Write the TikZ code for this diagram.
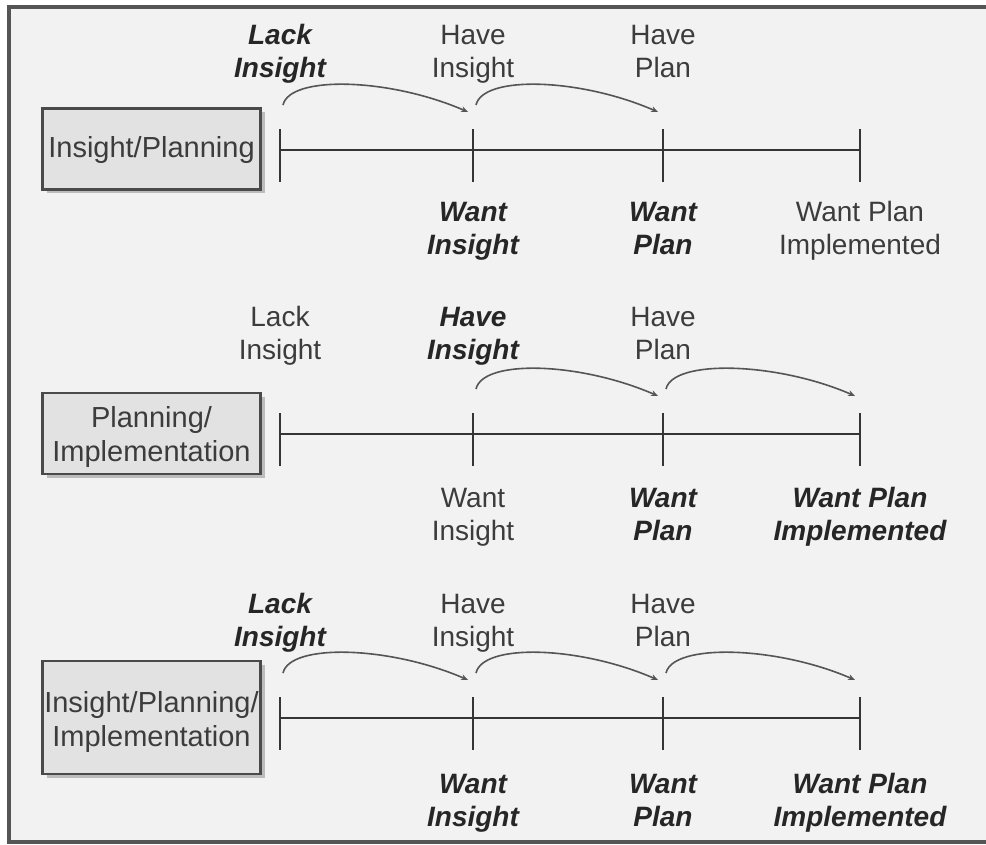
\documentclass[tikz,border=0pt]{standalone}
\usepackage{fontspec}
\setmainfont{Liberation Sans}
\usetikzlibrary{shadows,arrows.meta}

\definecolor{paper}{HTML}{F2F2F2}
\definecolor{framecol}{HTML}{555555}
\definecolor{boxfill}{HTML}{E2E2E2}
\definecolor{boxline}{HTML}{4A4A4A}
\definecolor{txtgray}{HTML}{3C3C3C}
\definecolor{txtdark}{HTML}{262626}
\definecolor{axiscol}{HTML}{353535}
\definecolor{hopcol}{HTML}{555555}

% curved jump from one stage of a timeline to the next
\newcommand\stagehop[2]{%
  \draw[hop] ([shift={(3pt,45pt)}]#1) .. controls +(7,-30) and +(-78,-34) .. ([shift={(-5pt,38pt)}]#2);}
% two-line stage label with struts, so all labels share the same line positions
\newcommand\twolines[2]{\strut#1\\#2\strut}

\begin{document}
\begin{tikzpicture}[x=1pt,y=-1pt,
  plain/.style={font=\fontsize{28}{33}\selectfont, text=txtgray, align=center, inner sep=0pt},
  strong/.style={font=\fontsize{28}{33}\selectfont\bfseries\itshape, text=txtdark, align=center, inner sep=0pt},
  stagebox/.style={draw=boxline, line width=2.8pt, fill=boxfill, minimum width=218pt, inner sep=0pt,
    drop shadow={shadow xshift=4pt, shadow yshift=-4pt, fill=black, opacity=0.22}},
  boxtext/.style={align=center, text=txtgray, inner sep=0pt, font=\fontsize{29}{34}\selectfont},
  tick/.style={draw=axiscol, line width=2.6pt},
  axis/.style={draw=axiscol, line width=2.6pt},
  hop/.style={draw=hopcol, line width=1.6pt, -{Stealth[length=7pt,width=6pt]}}]

\useasboundingbox (0,0) rectangle (986,845);
\clip (0,0) rectangle (986,845);

% panel background and frame (open to the right)
\fill[paper] (9,7) rectangle (1000,842);
\draw[framecol, line width=4pt] (1000,7) -- (9,7) -- (9,842) -- (1000,842);

% three timelines with four stages each
\foreach \r/\Y in {1/150,2/434,3/718}{
  \foreach \i/\X in {0/280,1/473,2/663,3/860}{
    \coordinate (t\r\i) at (\X,\Y);
  }
  \draw[axis] (t\r0) -- (t\r3);
  \foreach \i in {0,1,2,3}{
    \draw[tick] ([yshift=21pt]t\r\i) -- ([yshift=-32pt]t\r\i);
  }
}

% stage boxes
\node[stagebox, minimum height=81pt] (box1) at (151.5,149) {};
\node[boxtext] (box1txt) at ([yshift=-1pt]box1.center) {Insight/Planning};
\node[stagebox, minimum height=81pt] (box2) at (151.5,433.5) {};
\node[boxtext] (box2txt) at ([yshift=-4pt]box2.center) {Planning/\\Implementation};
\node[stagebox, minimum height=113pt] (box3) at (151.5,717.5) {};
\node[boxtext] (box3txt) at ([yshift=-4pt]box3.center) {Insight/Planning/\\Implementation};

% row 1: Insight/Planning
\node[strong] (u10) at ([yshift=96pt]t10) {\twolines{Lack}{Insight}};
\node[plain]  (u11) at ([yshift=96pt]t11) {\twolines{Have}{Insight}};
\node[plain]  (u12) at ([yshift=96pt]t12) {\twolines{Have}{Plan}};
\node[strong] (d11) at ([yshift=-81pt]t11) {\twolines{Want}{Insight}};
\node[strong] (d12) at ([yshift=-81pt]t12) {\twolines{Want}{Plan}};
\node[plain]  (d13) at ([yshift=-81pt]t13) {\twolines{Want Plan}{Implemented}};
\stagehop{t10}{t11}
\stagehop{t11}{t12}

% row 2: Planning/Implementation
\node[plain]  (u20) at ([yshift=98pt]t20) {\twolines{Lack}{Insight}};
\node[strong] (u21) at ([yshift=98pt]t21) {\twolines{Have}{Insight}};
\node[plain]  (u22) at ([yshift=98pt]t22) {\twolines{Have}{Plan}};
\node[plain]  (d21) at ([yshift=-83pt]t21) {\twolines{Want}{Insight}};
\node[strong] (d22) at ([yshift=-83pt]t22) {\twolines{Want}{Plan}};
\node[strong] (d23) at ([yshift=-83pt]t23) {\twolines{Want Plan}{Implemented}};
\stagehop{t21}{t22}
\stagehop{t22}{t23}

% row 3: Insight/Planning/Implementation
\node[strong] (u30) at ([yshift=95pt]t30) {\twolines{Lack}{Insight}};
\node[plain]  (u31) at ([yshift=95pt]t31) {\twolines{Have}{Insight}};
\node[plain]  (u32) at ([yshift=95pt]t32) {\twolines{Have}{Plan}};
\node[strong] (d31) at ([yshift=-85pt]t31) {\twolines{Want}{Insight}};
\node[strong] (d32) at ([yshift=-85pt]t32) {\twolines{Want}{Plan}};
\node[strong] (d33) at ([yshift=-85pt]t33) {\twolines{Want Plan}{Implemented}};
\stagehop{t30}{t31}
\stagehop{t31}{t32}
\stagehop{t32}{t33}

\end{tikzpicture}
\end{document}
